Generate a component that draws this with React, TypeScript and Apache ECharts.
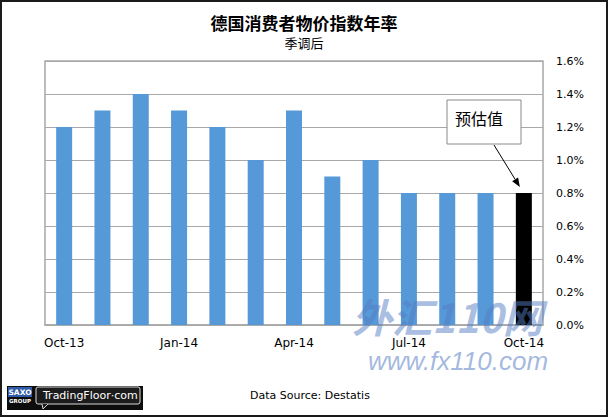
import React, { useEffect, useRef } from "react";
import * as echarts from "echarts";

const categories = ["Oct-13", "Nov-13", "Dec-13", "Jan-14", "Feb-14", "Mar-14", "Apr-14", "May-14", "Jun-14", "Jul-14", "Aug-14", "Sep-14", "Oct-14"];
const cpiValues = [1.2, 1.3, 1.4, 1.3, 1.2, 1.0, 1.3, 0.9, 1.0, 0.8, 0.8, 0.8, 0.8];
const estimateIndex = 12;
const yMin = 0;
const yMax = 1.6;
const yInterval = 0.2;
const titleText = "德国消费者物价指数年率";
const subtitleText = "季调后";
const annotationText = "预估值";
const sourceText = "Data Source: Destatis";

export default function App() {
  const ref = useRef<HTMLDivElement>(null);

  useEffect(() => {
    if (!ref.current) return;
    const chart = echarts.init(ref.current, null, { renderer: "svg" });
    const latin = "DejaVu Sans";
    const cjk = "Noto Sans CJK SC";

    chart.setOption({
      animation: false,
      backgroundColor: "#ffffff",
      title: {
        text: titleText,
        subtext: subtitleText,
        left: "center",
        top: 9,
        itemGap: 5,
        textStyle: { fontFamily: cjk, fontSize: 17, fontWeight: "bold", color: "#000" },
        subtextStyle: { fontFamily: cjk, fontSize: 13, color: "#000" },
      },
      grid: {
        left: 45,
        right: 65,
        top: 61,
        bottom: 92,
        show: true,
        borderColor: "#a8a8a8",
        borderWidth: 1.5,
      },
      xAxis: {
        type: "category",
        data: categories,
        boundaryGap: true,
        axisLine: { show: true, lineStyle: { color: "#a8a8a8", width: 1.5 } },
        axisTick: { show: false },
        axisLabel: { interval: 2, color: "#000", fontFamily: latin, fontSize: 12, margin: 12 },
        splitLine: { show: false },
      },
      yAxis: {
        type: "value",
        position: "right",
        min: yMin,
        max: yMax,
        interval: yInterval,
        axisLine: { show: false },
        axisTick: { show: false },
        axisLabel: {
          color: "#000",
          fontFamily: latin,
          fontSize: 11,
          margin: 13,
          formatter: (v: number) => v.toFixed(1) + "%",
        },
        splitLine: { show: true, lineStyle: { color: "#a8a8a8", width: 1 } },
      },
      series: [
        {
          type: "bar",
          barWidth: 16,
          data: cpiValues.map((v, i) =>
            i === estimateIndex ? { value: v, itemStyle: { color: "#000000" } } : v
          ),
          itemStyle: { color: "#5699d8" },
        },
      ],
    });

    const p = chart.convertToPixel({ seriesIndex: 0 }, [estimateIndex, cpiValues[estimateIndex]]) as number[];
    const sx = 494, sy = 145;
    const ex = p[0] - 4, ey = p[1] - 6;
    const dx = ex - sx, dy = ey - sy;
    const len = Math.sqrt(dx * dx + dy * dy);
    const ux = dx / len, uy = dy / len;
    const px = -uy, py = ux;
    const ah = 9, aw = 3.5;
    const bxp = ex - ux * ah, byp = ey - uy * ah;

    chart.setOption({
      graphic: [
        // annotation box
        { type: "rect", shape: { x: 447, y: 100, width: 74, height: 44 }, style: { fill: "#fff", stroke: "#8a8a8a", lineWidth: 1 }, z: 50 },
        { type: "text", x: 455, y: 118, style: { text: annotationText, fontFamily: cjk, fontSize: 16, fill: "#000", textVerticalAlign: "middle" }, z: 51 },
        { type: "line", shape: { x1: sx, y1: sy, x2: bxp, y2: byp }, style: { stroke: "#000", lineWidth: 1 }, z: 50 },
        { type: "polygon", shape: { points: [[ex, ey], [bxp + px * aw, byp + py * aw], [bxp - px * aw, byp - py * aw]] }, style: { fill: "#000" }, z: 50 },
        // watermark
        { type: "text", x: 352, y: 316, style: { text: "外汇110网", fontFamily: cjk, fontSize: 40, fontStyle: "italic", fontWeight: "bold", fill: "rgba(85,125,195,0.5)", textVerticalAlign: "middle" }, z: 100 },
        { type: "text", x: 368, y: 361, style: { text: "www.fx110.com", fontFamily: "Liberation Sans", fontSize: 26, fontStyle: "italic", fill: "rgba(85,125,195,0.55)", textVerticalAlign: "middle" }, z: 100 },
        // logo
        { type: "rect", shape: { x: 7, y: 386, width: 136, height: 24 }, style: { fill: "#0d0d0d" }, z: 40 },
        { type: "rect", shape: { x: 8, y: 387, width: 24, height: 10 }, style: { fill: "#2f5ba8" }, z: 41 },
        { type: "text", x: 20, y: 392, style: { text: "SAXO", fontFamily: latin, fontSize: 7.5, fontWeight: "bold", fill: "#fff", textAlign: "center", textVerticalAlign: "middle" }, z: 42 },
        { type: "text", x: 20, y: 401, style: { text: "GROUP", fontFamily: latin, fontSize: 5.5, fontWeight: "bold", fill: "#fff", textAlign: "center", textVerticalAlign: "middle" }, z: 42 },
        { type: "rect", shape: { x: 36, y: 387, width: 104, height: 17, r: 2 }, style: { fill: "#1c1c1c", stroke: "#d8d8d8", lineWidth: 1 }, z: 41 },
        { type: "polyline", shape: { points: [[42, 404], [43, 409], [48, 404]] }, style: { stroke: "#d8d8d8", lineWidth: 1, fill: "#1c1c1c" }, z: 42 },
        { type: "text", x: 43, y: 395.5, style: { text: "TradingFloor·com", fontFamily: latin, fontSize: 11, fill: "#fff", textVerticalAlign: "middle" }, z: 42 },
        // data source
        { type: "text", x: 250, y: 395, style: { text: sourceText, fontFamily: latin, fontSize: 11, fill: "#000", textVerticalAlign: "middle" }, z: 40 },
        // outer border
        { type: "rect", shape: { x: 1, y: 1, width: 606, height: 415 }, style: { fill: "rgba(0,0,0,0)", stroke: "#1a1a1a", lineWidth: 2 }, z: 200 },
      ],
    });

    return () => chart.dispose();
  }, []);

  return <div ref={ref} style={{ position: "fixed", left: 0, top: 0, width: 608, height: 417 }} />;
}
